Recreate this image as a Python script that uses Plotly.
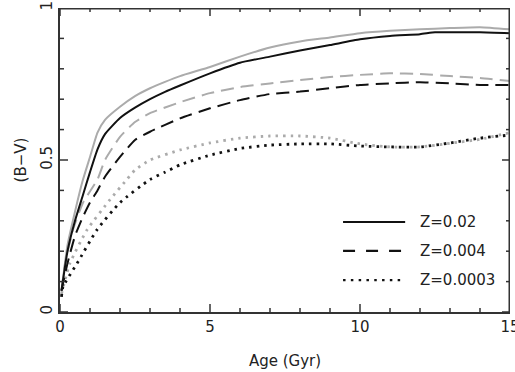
import plotly.graph_objects as go

# ---- data ----
age_sol_k = [0.05, 0.25, 0.5, 0.75, 1.0, 1.25, 1.5, 2, 2.5, 3, 3.5, 4, 5, 6, 7, 8, 9, 10, 11, 12, 12.5, 13, 14, 15]
bv_sol_k = [0.07, 0.20, 0.30, 0.38, 0.46, 0.535, 0.585, 0.638, 0.672, 0.70, 0.724, 0.745, 0.785, 0.82, 0.84, 0.86, 0.878, 0.897, 0.908, 0.914, 0.92, 0.92, 0.92, 0.917]

age_sol_g = [0.05, 0.25, 0.5, 0.75, 1.0, 1.25, 1.5, 2, 2.5, 3, 3.5, 4, 5, 6, 7, 8, 9, 10, 11, 12, 13, 14, 15]
bv_sol_g = [0.07, 0.22, 0.33, 0.43, 0.51, 0.59, 0.632, 0.675, 0.71, 0.736, 0.757, 0.776, 0.806, 0.84, 0.87, 0.89, 0.903, 0.917, 0.925, 0.93, 0.934, 0.937, 0.93]

age_dash_k = [0.05, 0.25, 0.5, 0.75, 1.0, 1.25, 1.5, 2, 2.5, 3, 4, 5, 6, 7, 8, 9, 10, 11, 12, 13, 14, 15]
bv_dash_k = [0.07, 0.16, 0.25, 0.31, 0.36, 0.40, 0.445, 0.51, 0.566, 0.593, 0.637, 0.67, 0.697, 0.717, 0.725, 0.736, 0.747, 0.752, 0.756, 0.752, 0.747, 0.747]

age_dash_g = [0.05, 0.17, 0.43, 0.77, 1.25, 1.5, 2, 2.5, 3, 4, 5, 6, 7, 8, 9, 10, 11, 12, 13, 14, 15]
bv_dash_g = [0.07, 0.16, 0.27, 0.36, 0.436, 0.50, 0.576, 0.625, 0.654, 0.69, 0.72, 0.74, 0.752, 0.763, 0.773, 0.78, 0.785, 0.783, 0.776, 0.77, 0.76]

age_dot_k = [0.05, 0.1, 0.57, 1.23, 2.0, 3.0, 3.5, 4, 5, 6, 7, 8, 9, 10, 11, 12, 13, 14, 15]
bv_dot_k = [0.05, 0.083, 0.16, 0.27, 0.36, 0.436, 0.46, 0.484, 0.516, 0.538, 0.549, 0.553, 0.553, 0.546, 0.543, 0.543, 0.556, 0.572, 0.582]

age_dot_g = [0.05, 0.33, 0.9, 1.67, 2.23, 2.5, 3, 4, 5, 6, 7, 8, 9, 10, 11, 12, 13, 14, 15]
bv_dot_g = [0.06, 0.16, 0.27, 0.37, 0.436, 0.467, 0.50, 0.533, 0.556, 0.572, 0.579, 0.579, 0.572, 0.553, 0.543, 0.543, 0.555, 0.568, 0.59]

legend_labels = ["Z=0.02", "Z=0.004", "Z=0.0003"]
x_tick_positions = [0, 1, 2, 3, 4, 5, 6, 7, 8, 9, 10, 11, 12, 13, 14, 15]
x_major = [0, 5, 10, 15]
y_tick_positions = [0.0, 0.1, 0.2, 0.3, 0.4, 0.5, 0.6, 0.7, 0.8, 0.9, 1.0]
y_major = [0.0, 0.5, 1.0]
X_RANGE = [0, 15]
Y_RANGE = [0, 1]

BLACK = "#111111"
GRAY = "#ababab"
AX = "#333333"
FONT = dict(family="DejaVu Sans", size=15, color="#222222")

DASH_PLOT = "13px,7px"
DOT_PLOT = "2.5px,5px"

W, H = 515, 372
ML, MR, MT, MB = 60, 5, 8, 60
PW, PH = W - ML - MR, H - MT - MB
XPX = (X_RANGE[1] - X_RANGE[0]) / PW   # data units per pixel
YPX = (Y_RANGE[1] - Y_RANGE[0]) / PH

fig = go.Figure()
series = [
    (age_sol_g, bv_sol_g, GRAY, "solid", 2),
    (age_dash_g, bv_dash_g, GRAY, DASH_PLOT, 2),
    (age_dot_g, bv_dot_g, GRAY, DOT_PLOT, 2.8),
    (age_sol_k, bv_sol_k, BLACK, "solid", 2),
    (age_dash_k, bv_dash_k, BLACK, DASH_PLOT, 2),
    (age_dot_k, bv_dot_k, BLACK, DOT_PLOT, 2.8),
]
for x, y, c, d, w in series:
    fig.add_trace(go.Scatter(x=x, y=y, mode="lines",
                             line=dict(color=c, dash=d, width=w, shape="spline", smoothing=0.5),
                             showlegend=False, hoverinfo="skip"))

# inside tick marks on all four sides, built from the tick lists
tx, ty = [], []
for xv in x_tick_positions:
    L = (8 if xv in x_major else 4) * YPX
    tx += [xv, xv, None, xv, xv, None]
    ty += [Y_RANGE[0], Y_RANGE[0] + L, None, Y_RANGE[1], Y_RANGE[1] - L, None]
for yv in y_tick_positions:
    L = (8 if yv in y_major else 4) * XPX
    tx += [X_RANGE[0], X_RANGE[0] + L, None, X_RANGE[1], X_RANGE[1] - L, None]
    ty += [yv, yv, None, yv, yv, None]
fig.add_trace(go.Scatter(x=tx, y=ty, mode="lines", line=dict(color=AX, width=1.5),
                         showlegend=False, hoverinfo="skip"))
# top and right frame edges (half of the width is clipped at the plot edge)
fig.add_trace(go.Scatter(x=[X_RANGE[0], X_RANGE[1], X_RANGE[1]], y=[Y_RANGE[1], Y_RANGE[1], Y_RANGE[0]],
                         mode="lines", line=dict(color=AX, width=3),
                         showlegend=False, hoverinfo="skip"))

# legend drawn as layout elements (longer samples than plotly's legend)
leg_y = [0.296, 0.201, 0.105]
leg_dash = ["solid", "12px,11px", "2.5px,5.3px"]
for yy, dd, lab in zip(leg_y, leg_dash, legend_labels):
    fig.add_shape(type="line", xref="paper", yref="paper", x0=0.629, x1=0.767, y0=yy, y1=yy,
                  line=dict(color=BLACK, width=2.2 if dd != "solid" else 2, dash=dd))
    fig.add_annotation(xref="paper", yref="paper", x=0.795, y=yy, text=lab, showarrow=False,
                       xanchor="left", yanchor="middle", font=FONT)

fig.update_xaxes(range=X_RANGE, tickmode="array", tickvals=x_major, ticks="",
                 showline=True, linecolor=AX, linewidth=1.5, showgrid=False, zeroline=False,
                 tickfont=FONT, ticklabeloverflow="allow",
                 title=dict(text="Age (Gyr)", font=FONT, standoff=21))
fig.update_yaxes(range=Y_RANGE, tickmode="array", tickvals=y_major, ticktext=["0", "0.5", "1"],
                 tickangle=-90, ticks="",
                 showline=True, linecolor=AX, linewidth=1.5, showgrid=False, zeroline=False,
                 tickfont=FONT, ticklabeloverflow="allow",
                 title=dict(text="(B\u2212V)", font=FONT, standoff=8))

fig.update_layout(width=W, height=H, margin=dict(l=ML, r=MR, t=MT, b=MB, autoexpand=False),
                  plot_bgcolor="white", paper_bgcolor="white", font=FONT)

fig.write_html("out.html", config={"displayModeBar": False},
               post_script="document.body.style.margin='0';")
